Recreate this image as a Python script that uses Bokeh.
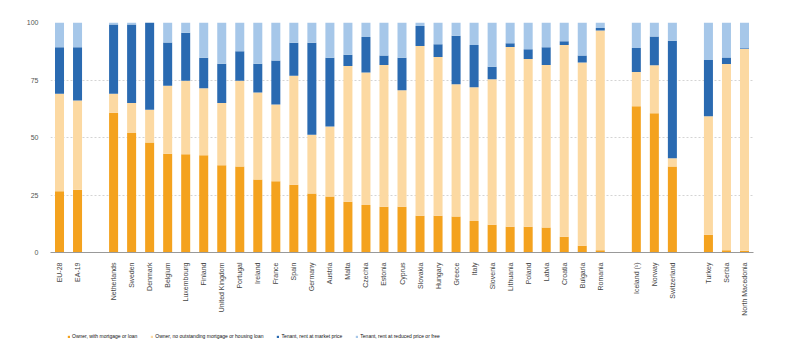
from bokeh.plotting import figure
from bokeh.layouts import column
from bokeh.models import ColumnDataSource, FactorRange, Legend, LegendItem, FixedTicker, Range1d
from bokeh.embed import file_html
from bokeh.resources import INLINE
from math import pi

eu_aggregates = ["EU-28", "EA-19"]
eu_members = ["Netherlands", "Sweden", "Denmark", "Belgium", "Luxembourg", "Finland",
              "United Kingdom", "Portugal", "Ireland", "France", "Spain", "Germany",
              "Austria", "Malta", "Czechia", "Estonia", "Cyprus", "Slovakia", "Hungary",
              "Greece", "Italy", "Slovenia", "Lithuania", "Poland", "Latvia", "Croatia",
              "Bulgaria", "Romania"]
efta = ["Iceland (¹)", "Norway", "Switzerland"]
candidates = ["Turkey", "Serbia", "North Macedonia"]

owner_mortgage = [26.6, 27.3,
                  60.8, 52.0, 47.8, 42.9, 42.7, 42.3, 37.9, 37.4, 31.7, 31.0, 29.5, 25.7,
                  24.3, 22.1, 20.7, 19.9, 19.9, 16.0, 16.0, 15.6, 13.7, 12.1, 11.2, 11.2,
                  10.9, 6.8, 2.9, 1.0,
                  63.6, 60.5, 37.4,
                  7.7, 1.0, 0.8]
owner_no_mortgage = [42.4, 38.8,
                     8.2, 13.0, 14.3, 29.6, 32.0, 29.1, 27.1, 37.3, 37.9, 33.4, 47.4, 25.5,
                     30.5, 59.0, 57.6, 61.6, 50.6, 73.8, 69.0, 57.5, 58.2, 63.2, 78.2, 72.9,
                     70.6, 83.4, 79.7, 95.5,
                     14.9, 20.9, 3.6,
                     51.5, 81.0, 87.7]
tenant_market = [20.2, 23.1,
                 30.1, 34.1, 37.9, 18.8, 20.8, 13.3, 17.1, 12.8, 12.5, 19.1, 14.3, 40.0,
                 29.9, 4.9, 15.4, 4.2, 14.2, 8.7, 5.5, 21.1, 18.3, 5.5, 1.6, 4.3,
                 7.7, 1.7, 3.1, 1.1,
                 10.4, 12.5, 51.1,
                 24.5, 2.8, 0.3]
tenant_reduced = [10.8, 10.8,
                  0.9, 0.9, 0.0, 8.7, 4.5, 15.3, 17.9, 12.5, 17.9, 16.5, 8.8, 8.8,
                  15.3, 14.0, 6.3, 14.3, 15.3, 1.5, 9.5, 5.8, 9.8, 19.2, 9.0, 11.6,
                  10.8, 8.1, 14.3, 2.4,
                  11.1, 6.1, 7.9,
                  16.3, 15.2, 11.2]

series_names = ["Owner, with mortgage or loan",
                "Owner, no outstanding mortgage or housing loan",
                "Tenant, rent at market price",
                "Tenant, rent at reduced price or free"]
colors = ["#F4A21E", "#FCD9A2", "#2A6AB1", "#A6C7E9"]
y_ticks = [0, 25, 50, 75, 100]

countries = eu_aggregates + eu_members + efta + candidates
# category slots with blank separators between the groups
slots = eu_aggregates + [" "] + eu_members + ["  "] + efta + ["   "] + candidates

keys = ["m", "n", "t", "r"]
source = ColumnDataSource(dict(x=countries, m=owner_mortgage, n=owner_no_mortgage,
                               t=tenant_market, r=tenant_reduced))

p = figure(width=792, height=320, output_backend="svg", toolbar_location=None,
           x_range=FactorRange(factors=slots, range_padding=0), y_range=(0, 100),
           min_border_left=50, min_border_right=39, min_border_top=22, min_border_bottom=68)
p.outline_line_color = None

renderers = p.vbar_stack(keys, x="x", width=0.5, source=source, color=colors,
                         line_color=None)

p.xgrid.grid_line_color = None
p.ygrid.grid_line_color = "#d4d4d4"
p.ygrid.grid_line_dash = "2 2"
p.ygrid.grid_line_width = 1
p.yaxis.ticker = FixedTicker(ticks=y_ticks)
p.yaxis.axis_line_color = None
p.yaxis.major_tick_line_color = None
p.yaxis.minor_tick_line_color = None
p.yaxis.major_label_text_font = "Liberation Sans"
p.yaxis.major_label_text_font_size = "7px"
p.yaxis.major_label_text_color = "#555555"
p.yaxis.major_label_standoff = 6

p.xaxis.axis_line_color = "#999999"
p.xaxis.major_tick_line_color = None
p.xaxis.minor_tick_line_color = None
p.xaxis.major_label_orientation = pi / 2
p.xaxis.major_label_text_font = "Liberation Sans"
p.xaxis.major_label_text_font_size = "7px"
p.xaxis.major_label_text_color = "#444444"
p.xaxis.major_label_standoff = 4

# legend strip below the chart (its bars lie outside the visible y range)
lg = figure(width=792, height=36, output_backend="svg", toolbar_location=None,
            x_range=FactorRange(factors=slots), y_range=Range1d(200, 300),
            x_axis_location=None, y_axis_location=None,
            min_border_left=0, min_border_right=0, min_border_top=0, min_border_bottom=0)
lg.outline_line_color = None
lg.grid.visible = False
lg_renderers = lg.vbar_stack(keys, x="x", width=0.5, source=source, color=colors,
                             line_color=None)

legend = Legend(items=[LegendItem(label=n, renderers=[r]) for n, r in zip(series_names, lg_renderers)],
                orientation="horizontal", location=(17, 17))
legend.padding = 0
legend.margin = 0
legend.spacing = 13
legend.glyph_width = 3
legend.glyph_height = 3
legend.label_standoff = 2
legend.label_text_font = "Liberation Sans"
legend.label_text_font_size = "5px"
legend.label_text_color = "#111111"
legend.label_height = 6
legend.border_line_color = None
legend.background_fill_alpha = 0
lg.add_layout(legend, "center")

layout = column(p, lg, spacing=0)
open("out.html", "w").write(file_html(layout, INLINE))
